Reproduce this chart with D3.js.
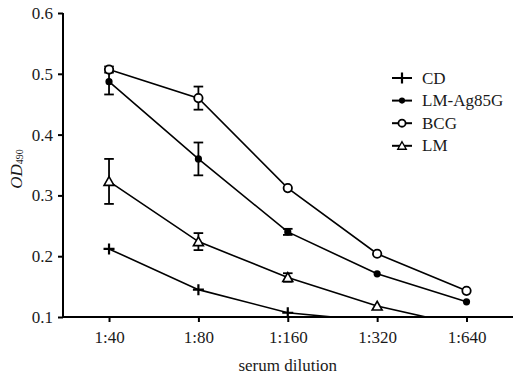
<!DOCTYPE html>
<html>
<head>
<meta charset="utf-8">
<script src="https://cdn.jsdelivr.net/npm/d3@7"></script>
<style>
  body { margin: 0; background: #fff; }
</style>
</head>
<body>
<svg id="chart" width="513" height="377"></svg>
<script>
const dilutions = ['1:40', '1:80', '1:160', '1:320', '1:640'];
const yTicks = [0.1, 0.2, 0.3, 0.4, 0.5, 0.6];

const cdValues = [0.212, 0.145, 0.107, 0.093, 0.085];
const cdErrors = [0, 0, 0, 0, 0];
const lmAgValues = [0.487, 0.360, 0.240, 0.171, 0.125];
const lmAgErrors = [0.021, 0.027, 0.005, 0, 0];
const bcgValues = [0.507, 0.460, 0.312, 0.204, 0.143];
const bcgErrors = [0.005, 0.019, 0, 0, 0];
const lmValues = [0.323, 0.224, 0.165, 0.118, 0.085];
const lmErrors = [0.037, 0.014, 0.007, 0, 0];

const series = [
  { name: 'CD', values: cdValues, errors: cdErrors, marker: 'plus' },
  { name: 'LM-Ag85G', values: lmAgValues, errors: lmAgErrors, marker: 'dot' },
  { name: 'BCG', values: bcgValues, errors: bcgErrors, marker: 'circle' },
  { name: 'LM', values: lmValues, errors: lmErrors, marker: 'triangle' }
];

const FONT = "'Liberation Serif'";
const TEXT_COLOR = '#1a1a1a';

const svg = d3.select('#chart'),
  margin = { top: 13, right: 0, bottom: 60, left: 63 },
  width = +svg.attr('width') - margin.left - margin.right,
  height = +svg.attr('height') - margin.top - margin.bottom,
  g = svg.append('g').attr('transform', 'translate(' + margin.left + ',' + margin.top + ')');

const x = d3.scaleLinear()
  .domain([-0.515, 4.52])
  .range([0, width]);

const y = d3.scaleLinear()
  .domain([0.1, 0.6])
  .range([height, 0]);

svg.append('defs').append('clipPath')
  .attr('id', 'plot-clip')
  .append('rect')
  .attr('x', 0).attr('y', -10)
  .attr('width', width).attr('height', height + 10);

const plot = g.append('g').attr('clip-path', 'url(#plot-clip)');

const line = d3.line()
  .x((d, i) => x(i))
  .y(d => y(d));

function drawMarker(sel, type, small) {
  const k = small ? 0.85 : 1;
  if (type === 'plus') {
    sel.append('path').attr('d', 'M-5.5,0H5.5M0,-5.5V5.5')
      .attr('stroke', '#000').attr('stroke-width', 2.2).attr('fill', 'none');
  } else if (type === 'dot') {
    sel.append('circle').attr('r', 3.6 * k).attr('fill', '#000');
  } else if (type === 'circle') {
    sel.append('circle').attr('r', 4.2 * k)
      .attr('fill', '#fff').attr('stroke', '#000').attr('stroke-width', 1.8);
  } else if (type === 'triangle') {
    sel.append('path').attr('d', 'M0,-4.8L5,4L-5,4Z')
      .attr('transform', 'scale(' + k + ')')
      .attr('fill', '#fff').attr('stroke', '#000').attr('stroke-width', 1.6);
  }
}

series.forEach(s => {
  plot.append('path')
    .datum(s.values)
    .attr('fill', 'none')
    .attr('stroke', '#000')
    .attr('stroke-width', 1.6)
    .attr('d', line);

  s.errors.forEach((e, i) => {
    if (!e) return;
    const v = s.values[i];
    const eb = plot.append('g').attr('stroke', '#000').attr('stroke-width', 1.8);
    eb.append('line').attr('x1', x(i)).attr('x2', x(i)).attr('y1', y(v - e)).attr('y2', y(v + e));
    [v - e, v + e].forEach(t => {
      eb.append('line').attr('x1', x(i) - 4.8).attr('x2', x(i) + 4.8).attr('y1', y(t)).attr('y2', y(t));
    });
  });

  s.values.forEach((v, i) => {
    if (v < 0.1) return;
    const m = plot.append('g').attr('transform', 'translate(' + x(i) + ',' + y(v) + ')');
    drawMarker(m, s.marker);
  });
});

// axes
const xAxis = g.append('g')
  .attr('transform', 'translate(0,' + height + ')')
  .call(d3.axisBottom(x).tickValues(d3.range(dilutions.length)).tickFormat(i => dilutions[i]).tickSize(5).tickPadding(9));
xAxis.select('.domain').attr('stroke-width', 2).attr('d', 'M0,0H' + width);

const yAxis = g.append('g')
  .call(d3.axisLeft(y).tickValues(yTicks).tickFormat(d3.format('.1f')).tickSize(5).tickPadding(5));
yAxis.select('.domain').attr('stroke-width', 2).attr('d', 'M0,' + (height + 1) + 'V0');

g.selectAll('.tick line').attr('stroke-width', 2);
g.selectAll('.tick text').attr('font-size', 17).attr('fill', TEXT_COLOR);

g.append('text')
  .attr('x', x(2))
  .attr('y', height + 54)
  .attr('text-anchor', 'middle')
  .attr('font-size', 17)
  .attr('fill', TEXT_COLOR)
  .text('serum dilution');

const yl = g.append('text')
  .attr('transform', 'translate(-41,' + (height / 2 + 4) + ') rotate(-90)')
  .attr('text-anchor', 'middle')
  .attr('font-size', 17)
  .attr('fill', TEXT_COLOR);
yl.append('tspan').attr('font-style', 'italic').text('OD');
yl.append('tspan').attr('font-size', 10).attr('dy', 1).text('490');

// legend
const legend = svg.append('g').attr('transform', 'translate(392,78)');
series.forEach((s, i) => {
  const row = legend.append('g').attr('transform', 'translate(0,' + (i * 22.6) + ')');
  row.append('line').attr('x1', 0).attr('x2', 20).attr('stroke', '#000').attr('stroke-width', 2);
  const m = row.append('g').attr('transform', 'translate(10,0)');
  drawMarker(m, s.marker, true);
  row.append('text').attr('x', 30).attr('y', 5.5).attr('font-size', 17).attr('fill', TEXT_COLOR).text(s.name);
});

svg.selectAll('text').style('font-family', FONT);
</script>
</body>
</html>
